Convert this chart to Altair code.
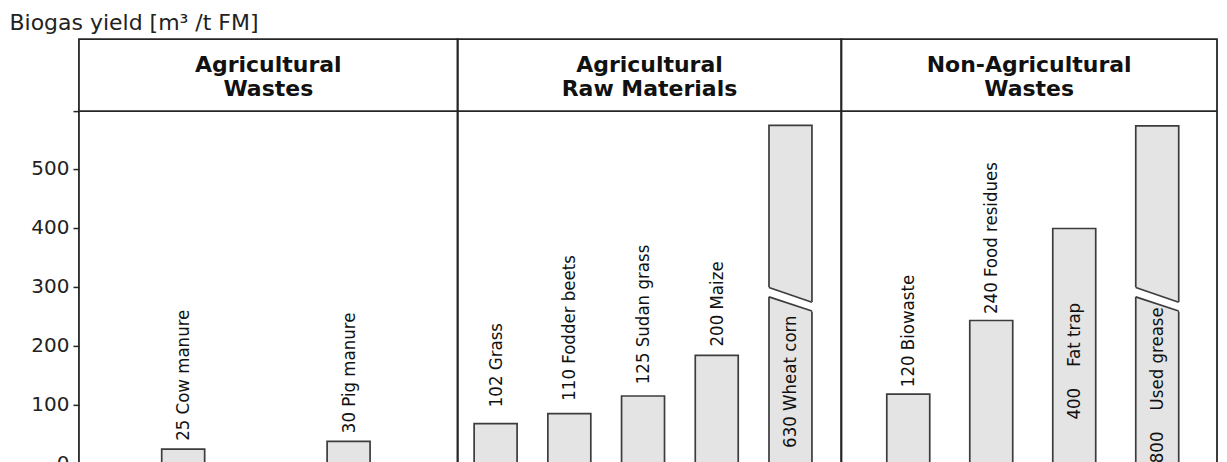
import altair as alt
import pandas as pd

# ---------------- data ----------------
panel_titles = ["Agricultural\nWastes", "Agricultural\nRaw Materials", "Non-Agricultural\nWastes"]
panel_names = [
    ["Cow manure", "Pig manure"],
    ["Grass", "Fodder beets", "Sudan grass", "Maize", "Wheat corn"],
    ["Biowaste", "Food residues", "Fat trap", "Used grease"],
]
bar_values = [
    [25, 38],
    [68, 85, 115, 184, 574],
    [118, 243, 399, 573],
]
label_texts = [
    ["25 Cow manure", "30 Pig manure"],
    ["102 Grass", "110 Fodder beets", "125 Sudan grass", "200 Maize", "630 Wheat corn"],
    ["120 Biowaste", "240 Food residues", "400\u00a0\u00a0\u00a0\u00a0Fat trap", "800\u00a0\u00a0\u00a0\u00a0Used grease"],
]
# where each label starts (in y units)
label_at = [
    [39, 52],
    [96, 107, 135, 199, 27],
    [130, 254, 75, 1],
]
broken = ["Wheat corn", "Used grease"]
break_upper = [299, 274]   # lower edge of the upper piece (left, right)
break_lower = [283, 259]   # upper edge of the lower piece (left, right)
y_ticks = [0, 100, 200, 300, 400, 500]
header_line = 598
header_text_at = 676
y_max = 720

# ---------------- layout / style ----------------
panel_widths = [379, 384, 376]
panel_domains = [[-0.6, 1.629], [-0.4475, 4.622], [-0.7465, 3.66]]
PLOT_H = 425
BAR_W = 43
LINE = "#262626"
BAR_STROKE = "#3c3c3c"
BAR_FILL = "#e4e4e4"
LABEL_FONT = "DejaVu Sans Condensed, Liberation Sans Narrow, Arial Narrow, Liberation Sans, Arial"

yscale = alt.Scale(domain=[0, y_max], nice=False, zero=True)
yaxis = alt.Axis(
    values=y_ticks + [header_line],
    labelExpr=f"datum.value > {y_ticks[-1] + 10} ? '' : datum.label",
    grid=False, domain=False,
    tickSize=6, tickWidth=1.5, tickColor=LINE,
    labelFont="DejaVu Sans", labelFontSize=20, labelColor="#222222", labelPadding=4,
    title="Biogas yield [m\u00b3 /t FM]",
    titleAngle=0, titleAlign="left", titleBaseline="alphabetic",
    titleX=-70, titleY=-10,
    titleFont="DejaVu Sans", titleFontSize=22, titleFontWeight="normal", titleColor="#222222",
)

ext = 3.5 / BAR_W  # extension of the white gap band beyond bar edges (fraction)

panels = []
for p in range(3):
    ax = yaxis if p == 0 else None
    df = pd.DataFrame({
        "idx": list(range(len(panel_names[p]))),
        "name": panel_names[p],
        "value": bar_values[p],
        "label": label_texts[p],
        "label_at": label_at[p],
    })
    xs = alt.Scale(domain=panel_domains[p], nice=False, zero=False)
    X = alt.X("idx:Q", scale=xs, axis=None)
    base = alt.Chart(df)

    bars = base.mark_bar(size=BAR_W, fill=BAR_FILL, stroke=BAR_STROKE, strokeWidth=1.7).encode(
        x=X,
        y=alt.Y("value:Q", scale=yscale, axis=ax),
    )
    layers = [bars]

    dfb = df[df["name"].isin(broken)].copy()
    if len(dfb):
        ml = (break_upper[0] + break_lower[0]) / 2
        mr = (break_upper[1] + break_lower[1]) / 2
        dfb["gl"] = ml + (ml - mr) * ext
        dfb["gr"] = mr - (ml - mr) * ext
        dfb["ul"] = break_upper[0]
        dfb["ur"] = break_upper[1]
        dfb["ll"] = break_lower[0]
        dfb["lr"] = break_lower[1]
        bb = alt.Chart(dfb)
        gap = bb.mark_rule(xOffset=-(BAR_W / 2 + 3.5), x2Offset=BAR_W / 2 + 3.5,
                           stroke="white", strokeWidth=9).encode(
            x=X, x2="idx:Q",
            y=alt.Y("gl:Q", scale=yscale, axis=ax), y2="gr:Q")
        up = bb.mark_rule(xOffset=-BAR_W / 2, x2Offset=BAR_W / 2,
                          stroke=BAR_STROKE, strokeWidth=1.7).encode(
            x=X, x2="idx:Q",
            y=alt.Y("ul:Q", scale=yscale, axis=ax), y2="ur:Q")
        lo = bb.mark_rule(xOffset=-BAR_W / 2, x2Offset=BAR_W / 2,
                          stroke=BAR_STROKE, strokeWidth=1.7).encode(
            x=X, x2="idx:Q",
            y=alt.Y("ll:Q", scale=yscale, axis=ax), y2="lr:Q")
        layers += [gap, up, lo]

    labels = base.mark_text(angle=270, align="left", baseline="middle",
                            font=LABEL_FONT, fontSize=18.5, color="#111111").encode(
        x=X,
        y=alt.Y("label_at:Q", scale=yscale, axis=ax),
        text="label:N",
    )
    layers.append(labels)

    hdf = pd.DataFrame({
        "t": [panel_titles[p]],
        "hy": [header_line],
        "ty": [header_text_at],
        "cx": [(panel_domains[p][0] + panel_domains[p][1]) / 2],
    })
    hb = alt.Chart(hdf)
    hrule = hb.mark_rule(stroke=LINE, strokeWidth=1.8).encode(
        y=alt.Y("hy:Q", scale=yscale, axis=ax))
    htext = hb.mark_text(lineBreak="\n", lineHeight=24, font="DejaVu Sans", fontWeight="bold",
                         fontSize=22, color="#111111", align="center", baseline="middle").encode(
        x=alt.X("cx:Q", scale=xs, axis=None),
        y=alt.Y("ty:Q", scale=yscale, axis=ax),
        text="t:N",
    )
    layers += [hrule, htext]

    panels.append(alt.layer(*layers).properties(width=panel_widths[p], height=PLOT_H))

chart = alt.hconcat(*panels, spacing=0, bounds="flush").properties(
    padding={"left": 0, "top": 2, "right": 0, "bottom": 0}
).configure_view(stroke=LINE, strokeWidth=1.8)

chart.save("out.html", embed_options={"renderer": "svg", "actions": False})
